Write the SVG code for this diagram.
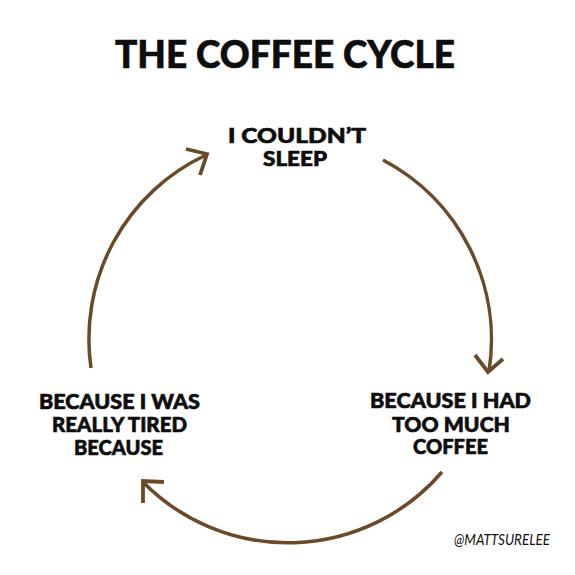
<svg xmlns="http://www.w3.org/2000/svg" width="575" height="575" viewBox="0 0 575 575">
<style>
.t{font-family:Lato,"Liberation Sans",sans-serif;font-weight:900;fill:#0d0d0d;stroke:#0d0d0d;stroke-width:0.6;text-anchor:middle}
.lbl{font-size:20px}
.arc{fill:none;stroke:#6b4a29;stroke-width:3.5;stroke-linecap:butt}
.head{fill:none;stroke:#6b4a29;stroke-width:3.8;stroke-linejoin:miter;stroke-linecap:butt}
</style>
<rect width="575" height="575" fill="#ffffff"/>
<g id="title"><text class="t" x="285" y="68" font-size="37" stroke-width="1" textLength="340" lengthAdjust="spacingAndGlyphs">THE COFFEE CYCLE</text></g>
<g id="node-sleep">
<text class="t lbl" x="297" y="143" textLength="138" lengthAdjust="spacingAndGlyphs">I COULDN’T</text>
<text class="t lbl" x="295" y="166" textLength="64" lengthAdjust="spacingAndGlyphs">SLEEP</text>
</g>
<g id="node-coffee">
<text class="t lbl" x="450.5" y="408" textLength="161" lengthAdjust="spacingAndGlyphs">BECAUSE I HAD</text>
<text class="t lbl" x="451" y="432" textLength="118" lengthAdjust="spacingAndGlyphs">TOO MUCH</text>
<text class="t lbl" x="450.5" y="454" textLength="75" lengthAdjust="spacingAndGlyphs">COFFEE</text>
</g>
<g id="node-tired">
<text class="t lbl" x="119.5" y="409" textLength="161" lengthAdjust="spacingAndGlyphs">BECAUSE I WAS</text>
<text class="t lbl" x="119.5" y="432" textLength="135" lengthAdjust="spacingAndGlyphs">REALLY TIRED</text>
<text class="t lbl" x="118.5" y="455" textLength="89" lengthAdjust="spacingAndGlyphs">BECAUSE</text>
</g>
<g id="connectors">
<path class="arc" d="M383,160 A 203 203 0 0 1 489,371"/>
<path class="head" d="M475,355 L488,372 L503,359"/>
<path class="arc" d="M442,472 A 203 203 0 0 1 143,482"/>
<path class="head" d="M164,482 L143,481 L143,503"/>
<path class="arc" d="M91,368 A 203 203 0 0 1 206,155"/>
<path class="head" d="M186,149 L207,154 L200,175"/>
</g>
<g id="credit"><text x="502" y="545" font-family="Lato,'Liberation Sans',sans-serif" font-style="italic" font-size="15" fill="#111" text-anchor="middle" textLength="96" lengthAdjust="spacingAndGlyphs">@MATTSURELEE</text></g>
</svg>
